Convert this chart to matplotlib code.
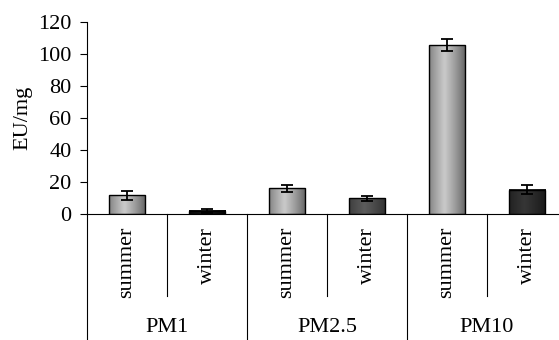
import numpy as np
import matplotlib
matplotlib.use("Agg")
import matplotlib.pyplot as plt
from matplotlib.colors import to_rgb
from matplotlib.transforms import blended_transform_factory


groups = ["PM1", "PM2.5", "PM10"]
seasons = ["summer", "winter"]

summer_vals = [11.7, 16.0, 105.6]
summer_err = [2.8, 2.3, 3.7]
winter_vals = [1.9, 9.8, 15.2]
winter_err = [1.4, 1.6, 2.8]

# shading per bar: (edge colour, highlight colour)
summer_shade = ("#5e5e5e", "#cacaca")
winter_shades = [("#000000", "#1a1a1a"), ("#2e2e2e", "#5c5c5c"), ("#161616", "#363636")]

plt.rcParams["font.family"] = "serif"
plt.rcParams["font.serif"] = ["Liberation Serif", "DejaVu Serif"]
plt.rcParams["font.size"] = 16


def shaded_bar(ax, x, height, width, dark, light):
    # horizontal cylinder-like gradient, brightest a bit left of centre
    t = np.linspace(0, 1, 64)
    prof = np.clip(1 - np.abs(t - 0.42) / 0.58, 0, 1) ** 0.8
    d = np.array(to_rgb(dark))
    l = np.array(to_rgb(light))
    img = d[None, :] + (l - d)[None, :] * prof[:, None]
    ax.imshow(img[None, :, :], extent=(x - width / 2, x + width / 2, 0, height),
              aspect="auto", interpolation="bicubic", zorder=2)
    ax.bar(x, height, width=width, fill=False, edgecolor="black", linewidth=1.0, zorder=3)


fig = plt.figure(figsize=(5.59, 3.40), dpi=100)
ax = fig.add_axes([87 / 559, 126 / 340, 480 / 559, 192 / 340])

width = 0.46
values, errs, xs = [], [], []
for i in range(len(groups)):
    for j, season in enumerate(seasons):
        x = 2 * i + j
        if season == "summer":
            v, e = summer_vals[i], summer_err[i]
            dark, light = summer_shade
        else:
            v, e = winter_vals[i], winter_err[i]
            dark, light = winter_shades[i]
        shaded_bar(ax, x, v, width, dark, light)
        xs.append(x)
        values.append(v)
        errs.append(e)

ax.errorbar(xs, values, yerr=errs, fmt="none", ecolor="black",
            elinewidth=1.3, capsize=4, capthick=1.3, zorder=4)

ax.set_xlim(-0.5, 5.5)
ax.set_ylim(0, 120)
ax.set_yticks(range(0, 121, 20))
ax.set_xticks([])
ax.tick_params(axis="y", direction="out", length=5, width=0.8, pad=6)
ax.set_ylabel("EU/mg", labelpad=4)

for side in ("top", "right"):
    ax.spines[side].set_visible(False)
for side in ("left", "bottom"):
    ax.spines[side].set_linewidth(0.8)

# category labels and separators below the axis
trans = blended_transform_factory(ax.transData, ax.transAxes)
for i, grp in enumerate(groups):
    for j, season in enumerate(seasons):
        ax.text(2 * i + j, -0.068, season, rotation=90, ha="center", va="top",
                transform=trans)
    ax.text(2 * i + 0.5, -0.59, grp, ha="center", va="center", transform=trans)
    ax.plot([2 * i + 0.5, 2 * i + 0.5], [0, -0.427], color="black", lw=0.8,
            transform=trans, clip_on=False)
for b in [-0.5, 1.5, 3.5, 5.5]:
    ax.plot([b, b], [0, -0.75], color="black", lw=0.8, transform=trans, clip_on=False)

fig.savefig("out.png", dpi=100)
